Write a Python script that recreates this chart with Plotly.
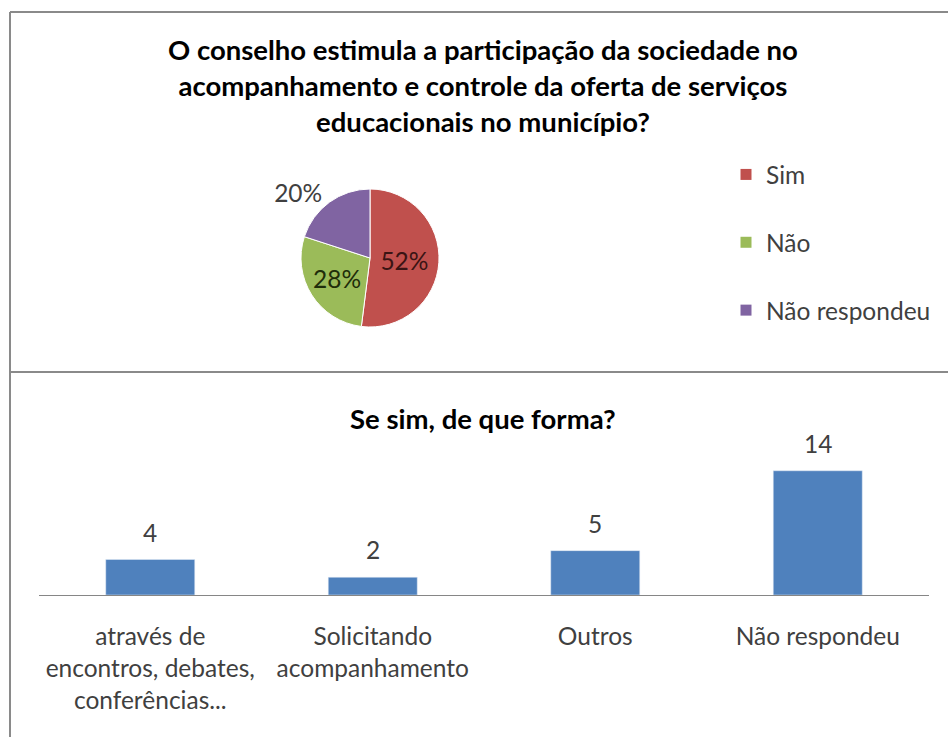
import plotly.graph_objects as go

# ---- data ----
pie_labels = ["Sim", "Não", "Não respondeu"]
pie_values = [52, 28, 20]
pie_colors = ["#C0504D", "#9BBB59", "#8064A2"]

bar_categories = ["através de<br>encontros, debates,<br>conferências...",
                  "Solicitando<br>acompanhamento",
                  "Outros",
                  "Não respondeu"]
bar_values = [4, 2, 5, 14]
bar_color = "#4F81BD"

title_top = "O conselho estimula a participação da sociedade no<br>acompanhamento e controle da oferta de serviços<br>educacionais no município?"
title_bottom = "Se sim, de que forma?"

W, H = 948, 737
FONT = "Lato"
GRAY = "#404040"
TXT = 24.5
TTL = 27.5

def px_x(x):
    return x / W

def px_y(y):
    return 1 - y / H

fig = go.Figure()

fig.add_trace(go.Pie(
    labels=pie_labels, values=pie_values, sort=False, direction="clockwise",
    rotation=0,
    marker=dict(colors=pie_colors, line=dict(color="white", width=1)),
    textinfo="percent", texttemplate="%{percent:.0%}",
    textposition=["inside", "inside", "outside"],
    insidetextorientation="horizontal",
    textfont=dict(family=FONT, size=TXT, color=["#3a1414", "#1f2d0a", GRAY]),
    domain=dict(x=[px_x(301), px_x(439)], y=[px_y(327), px_y(189)]),
    showlegend=False, hoverinfo="label+percent",
))

# legend entries (one per pie slice)
for lab, col in zip(pie_labels, pie_colors):
    fig.add_trace(go.Scatter(
        x=[None], y=[None], mode="markers", name=lab, legendgroup=lab,
        marker=dict(symbol="square", size=11, color=col),
        xaxis="x", yaxis="y",
    ))

fig.add_trace(go.Bar(
    x=bar_categories, y=bar_values, marker=dict(color=bar_color),
    width=0.4, showlegend=False, hoverinfo="x+y",
))

annotations = [
    dict(text="<b>" + title_top + "</b>", x=px_x(483), y=px_y(31), xref="paper", yref="paper",
         xanchor="center", yanchor="top", showarrow=False,
         font=dict(family=FONT, size=TTL, color="black")),
    dict(text="<b>" + title_bottom + "</b>", x=px_x(483), y=px_y(400), xref="paper", yref="paper",
         xanchor="center", yanchor="top", showarrow=False,
         font=dict(family=FONT, size=TTL, color="black")),
]
for c, v in zip(bar_categories, bar_values):
    annotations.append(dict(text=str(v), x=c, y=v, xref="x", yref="y",
                            yanchor="bottom", yshift=11, showarrow=False,
                            font=dict(family=FONT, size=TXT, color=GRAY)))

line_style = dict(color="#8a8a8a", width=2)
shapes = [
    dict(type="line", xref="paper", yref="paper", x0=px_x(10), x1=1.0, y0=px_y(12), y1=px_y(12), line=line_style),
    dict(type="line", xref="paper", yref="paper", x0=px_x(10), x1=px_x(10), y0=px_y(12), y1=0, line=line_style),
    dict(type="line", xref="paper", yref="paper", x0=px_x(10), x1=1.0, y0=px_y(372), y1=px_y(372), line=line_style),
]

fig.update_layout(
    width=W, height=H, margin=dict(l=0, r=0, t=0, b=0),
    paper_bgcolor="white", plot_bgcolor="white",
    font=dict(family=FONT, color=GRAY),
    showlegend=True,
    legend=dict(x=px_x(726), y=px_y(152), xanchor="left", yanchor="top",
                font=dict(family=FONT, size=TXT, color=GRAY),
                tracegroupgap=33, bgcolor="rgba(0,0,0,0)"),
    xaxis=dict(domain=[px_x(39), px_x(929)], range=[-0.5, 3.5], type="category",
               categoryorder="array", categoryarray=bar_categories,
               showline=True, linecolor="#868686", linewidth=1, showgrid=False,
               zeroline=False, ticks="", ticklabelstandoff=20,
               tickfont=dict(family=FONT, size=TXT, color=GRAY), fixedrange=True),
    yaxis=dict(domain=[px_y(595), px_y(453)], range=[0, 16], visible=False, fixedrange=True),
    annotations=annotations, shapes=shapes,
)

fig.write_html("out.html")
